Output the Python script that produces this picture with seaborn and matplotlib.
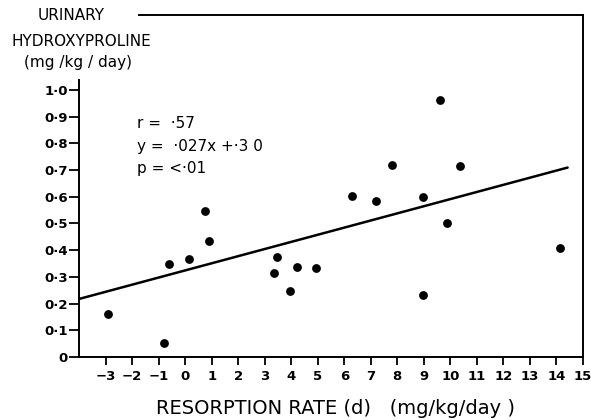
import matplotlib
matplotlib.use("Agg")
import matplotlib.pyplot as plt
import seaborn as sns
import numpy as np
import pandas as pd

# Data
resorption = [-2.91, -0.80, -0.62, 0.16, 0.74, 0.91, 3.34, 3.47, 3.97, 4.20,
              4.94, 6.31, 7.19, 7.80, 8.96, 8.97, 9.60, 9.87, 10.36, 14.13]
hydroxyproline = [0.161, 0.054, 0.348, 0.367, 0.547, 0.434, 0.316, 0.373, 0.247, 0.338,
                  0.332, 0.603, 0.584, 0.718, 0.598, 0.233, 0.963, 0.502, 0.713, 0.407]
fit_x = [-4.0, 14.42]
fit_slope = 0.0267
fit_intercept = 0.324
x_ticks = list(range(-3, 16))
y_ticks = [0.0, 0.1, 0.2, 0.3, 0.4, 0.5, 0.6, 0.7, 0.8, 0.9, 1.0]
y_tick_labels = ["0", "0·1", "0·2", "0·3", "0·4", "0·5", "0·6", "0·7", "0·8", "0·9", "1·0"]
x_tick_labels = [("−" + str(-v)) if v < 0 else str(v) for v in x_ticks]

sns.set_theme(style="white")
plt.rcParams['font.family'] = ['DejaVu Sans']
plt.rcParams['text.color'] = 'black'
plt.rcParams['xtick.color'] = 'black'
plt.rcParams['ytick.color'] = 'black'

fig = plt.figure(figsize=(5.91, 4.20), dpi=100)
ax = fig.add_axes([79/591, 1 - 357/420, (583-79)/591, (357-15)/420])

df = pd.DataFrame({"x": resorption, "y": hydroxyproline})
sns.scatterplot(data=df, x="x", y="y", ax=ax, color="black", s=40, edgecolor="black",
                linewidth=0, zorder=3)
fit_df = pd.DataFrame({"x": fit_x, "y": [fit_intercept + fit_slope * v for v in fit_x]})
sns.lineplot(data=fit_df, x="x", y="y", ax=ax, color="black", linewidth=1.8)

ax.set_xlim(-4, 15)
ax.set_ylim(0, 1.28)
ax.set_xticks(x_ticks)
ax.set_xticklabels(x_tick_labels, fontsize=9.5, fontweight="bold")
ax.set_yticks(y_ticks)
ax.set_yticklabels(y_tick_labels, fontsize=9.5, fontweight="bold")
ax.tick_params(axis="x", direction="out", length=6, width=1.3, pad=3, color="black", bottom=True)
ax.tick_params(axis="y", direction="out", length=7, width=1.3, pad=1, color="black", left=True)

for s in ["left", "bottom", "right", "top"]:
    ax.spines[s].set_color("black")
    ax.spines[s].set_linewidth(1.4)
ax.spines["left"].set_bounds(0, 1.035)
ax.spines["top"].set_bounds(-1.72, 15)

ax.set_xlabel("")
ax.set_ylabel("")

fig.text(335/591, 1 - 408/420, "RESORPTION RATE (d)   (mg/kg/day )", ha="center", va="center",
         fontsize=14)
fig.text(71/591, 1 - 15/420, "URINARY", ha="center", va="center", fontsize=11)
fig.text(81/591, 1 - 41/420, "HYDROXYPROLINE", ha="center", va="center", fontsize=11)
fig.text(78/591, 1 - 62/420, "(mg /kg / day)", ha="center", va="center", fontsize=11)

fig.text(137/591, 1 - 123/420, "r =  ·57", ha="left", va="center", fontsize=11)
fig.text(137/591, 1 - 146/420, "y =  ·027x +·3 0", ha="left", va="center", fontsize=11)
fig.text(137/591, 1 - 168/420, "p = <·01", ha="left", va="center", fontsize=11)

fig.savefig("out.png", dpi=100)
